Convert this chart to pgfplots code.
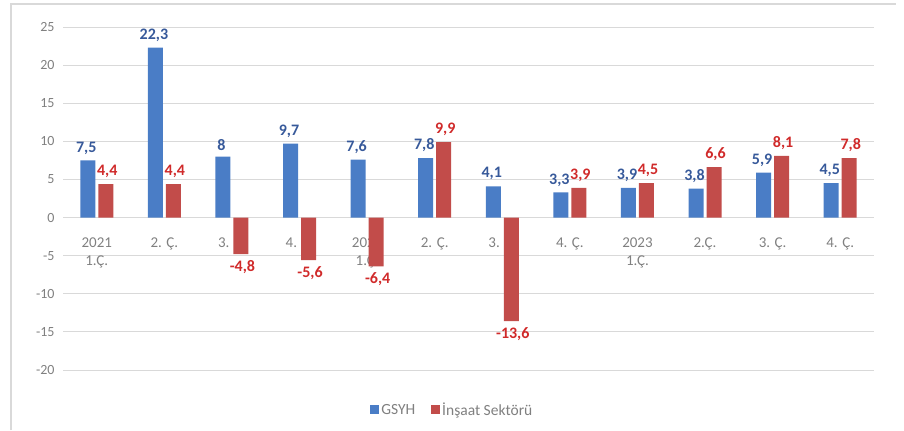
\documentclass[border=0pt]{standalone}
\usepackage{fontspec}
\setmainfont{Carlito}
\usepackage{pgfplots}
\pgfplotsset{compat=1.18}
\definecolor{gsyh}{HTML}{4A7DC6}
\definecolor{insaat}{HTML}{C24C4A}
\definecolor{gsyhlbl}{HTML}{37599A}
\definecolor{insaatlbl}{HTML}{D02A2A}
\definecolor{gridc}{HTML}{D9D9D9}
\definecolor{txt}{HTML}{808080}

\begin{document}
\begin{tikzpicture}
\begin{axis}[
  set layers,
  scale only axis,
  width=811pt, height=343pt,
  clip=false,
  ybar=3pt, bar width=15pt,
  xmin=-0.5, xmax=11.5,
  ymin=-20, ymax=25,
  ytick={-20,-15,...,25},
  xtick={0,...,11},
  xticklabels={{2021\\1.Ç.},{2. Ç.},{3. Ç.},{4. Ç.},{2022\\1.Ç.},{2. Ç.},
               {3. Ç.},{4. Ç.},{2023\\1.Ç.},{2.Ç.},{3. Ç.},{4. Ç.}},
  axis x line*=middle,
  axis y line*=left,
  x axis line style={gridc, line width=0.9pt},
  y axis line style={draw=none},
  major tick length=0pt,
  ymajorgrids,
  grid style={gridc, line width=0.9pt},
  xticklabel style={align=center, font=\fontsize{15}{18}\selectfont, text=txt, yshift=-17pt},
  yticklabel style={font=\fontsize{14}{16}\selectfont, text=txt, xshift=-5pt},
  /pgf/number format/.cd, use comma, assume math mode=true, /pgfplots/.cd,
  nodes near coords,
  every node near coord/.append style={font=\bfseries\fontsize{16}{18}\selectfont, inner ysep=6pt, inner xsep=1pt},
  legend style={at={(0.48,-0.1166)}, anchor=center, draw=none,
    legend columns=2, font=\fontsize{15.5}{17}\selectfont, text=txt,
    /tikz/every even column/.append style={column sep=14pt}},
]

% GSYH
\addplot[fill=gsyh, draw=none,
  every node near coord/.append style={text=gsyhlbl, xshift=-1.5pt},
  legend image code/.code={\fill[gsyh] (0pt,-4.5pt) rectangle (9pt,4.5pt);}]
  coordinates {
  (0,7.5) (1,22.3) (2,8) (3,9.7) (4,7.6) (5,7.8)
  (6,4.1) (7,3.3) (8,3.9) (9,3.8) (10,5.9) (11,4.5)
};

% Insaat Sektoru
\addplot[fill=insaat, draw=none,
  every node near coord/.append style={text=insaatlbl, xshift=1.5pt},
  legend image code/.code={\fill[insaat] (0pt,-4.5pt) rectangle (9pt,4.5pt);}]
  coordinates {
  (0,4.4) (1,4.4) (2,-4.8) (3,-5.6) (4,-6.4) (5,9.9)
  (6,-13.6) (7,3.9) (8,4.5) (9,6.6) (10,8.1) (11,7.8)
};

\legend{GSYH, İnşaat Sektörü}

% chart frame (only top and left edges show)
\draw[gridc, line width=1.2pt] (rel axis cs:-0.0641,-0.175) -- (rel axis cs:-0.0641,1.067) -- (rel axis cs:1.0271,1.067);
\path (rel axis cs:-0.0777,-0.1749) rectangle (rel axis cs:1.0370,1.0787);
\end{axis}
\end{tikzpicture}
\end{document}
